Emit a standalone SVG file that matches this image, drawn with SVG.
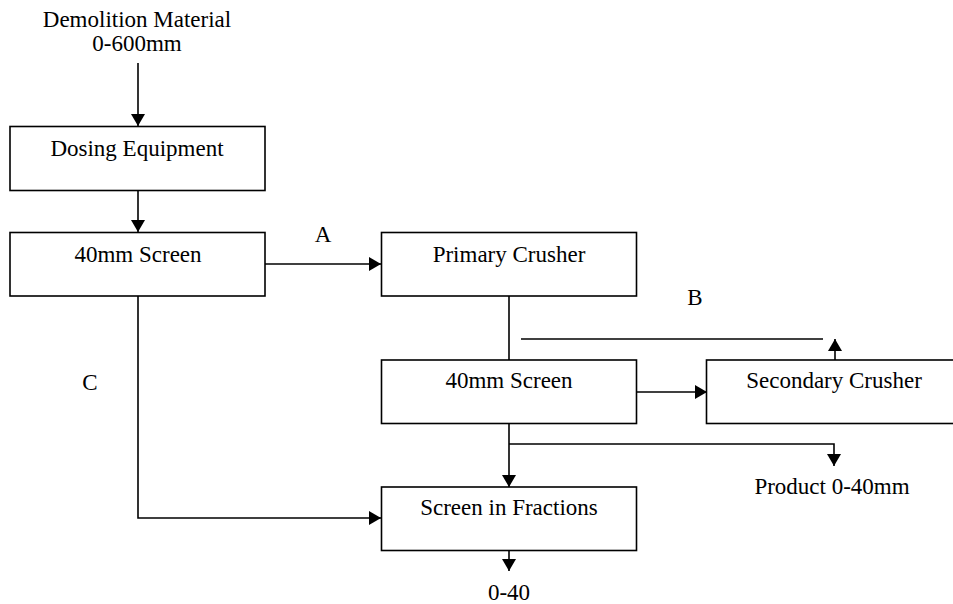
<svg xmlns="http://www.w3.org/2000/svg" width="953" height="604" viewBox="0 0 953 604">
<style>
  .box{fill:#fff;stroke:#000;stroke-width:1.6}
  .ln{fill:none;stroke:#000;stroke-width:1.6}
  .t{font-family:"Liberation Serif","Times New Roman",serif;font-size:23px;fill:#000;text-anchor:middle}
</style>
<defs>
  <marker id="ah" markerUnits="userSpaceOnUse" markerWidth="14" markerHeight="14" refX="12" refY="7" orient="auto" viewBox="0 0 14 14">
    <path d="M0,0 L12,7 L0,14 z" fill="#000"/>
  </marker>
</defs>
<rect width="953" height="604" fill="#fff"/>
<g id="connectors">
  <path class="ln" d="M138,63 V126" marker-end="url(#ah)"/>
  <path class="ln" d="M138,190 V232" marker-end="url(#ah)"/>
  <path class="ln" d="M265,264 H381" marker-end="url(#ah)"/>
  <path class="ln" d="M509,296 V360"/>
  <path class="ln" d="M521,339 H823"/>
  <path class="ln" d="M835,360 V339" marker-end="url(#ah)"/>
  <path class="ln" d="M637,392 H707" marker-end="url(#ah)"/>
  <path class="ln" d="M509,423 V487" marker-end="url(#ah)"/>
  <path class="ln" d="M509,444 H834 V466" marker-end="url(#ah)"/>
  <path class="ln" d="M509,551 V571" marker-end="url(#ah)"/>
  <path class="ln" d="M138,296 V518 H381" marker-end="url(#ah)"/>
</g>
<g id="input">
  <text class="t" x="137" y="27">Demolition Material</text>
  <text class="t" x="137" y="51">0-600mm</text>
</g>
<g id="dosing">
  <rect class="box" x="10" y="126.5" width="255" height="64"/>
  <text class="t" x="137" y="156">Dosing Equipment</text>
</g>
<g id="screen1">
  <rect class="box" x="10" y="232.5" width="255" height="63.5"/>
  <text class="t" x="138" y="262">40mm Screen</text>
</g>
<g id="primary">
  <rect class="box" x="381.5" y="232.5" width="255" height="63.5"/>
  <text class="t" x="509" y="262">Primary Crusher</text>
</g>
<g id="screen2">
  <rect class="box" x="381.5" y="360" width="255" height="63.5"/>
  <text class="t" x="509" y="388">40mm Screen</text>
</g>
<g id="secondary">
  <rect class="box" x="706.5" y="360" width="270" height="63.5"/>
  <text class="t" x="834" y="388">Secondary Crusher</text>
</g>
<g id="fractions">
  <rect class="box" x="381.5" y="487" width="255" height="63.5"/>
  <text class="t" x="509" y="515">Screen in Fractions</text>
</g>
<g id="labels">
  <text class="t" x="323" y="242">A</text>
  <text class="t" x="695" y="305">B</text>
  <text class="t" x="90" y="390">C</text>
  <text class="t" x="832" y="494">Product 0-40mm</text>
  <text class="t" x="509" y="600">0-40</text>
</g>
</svg>
